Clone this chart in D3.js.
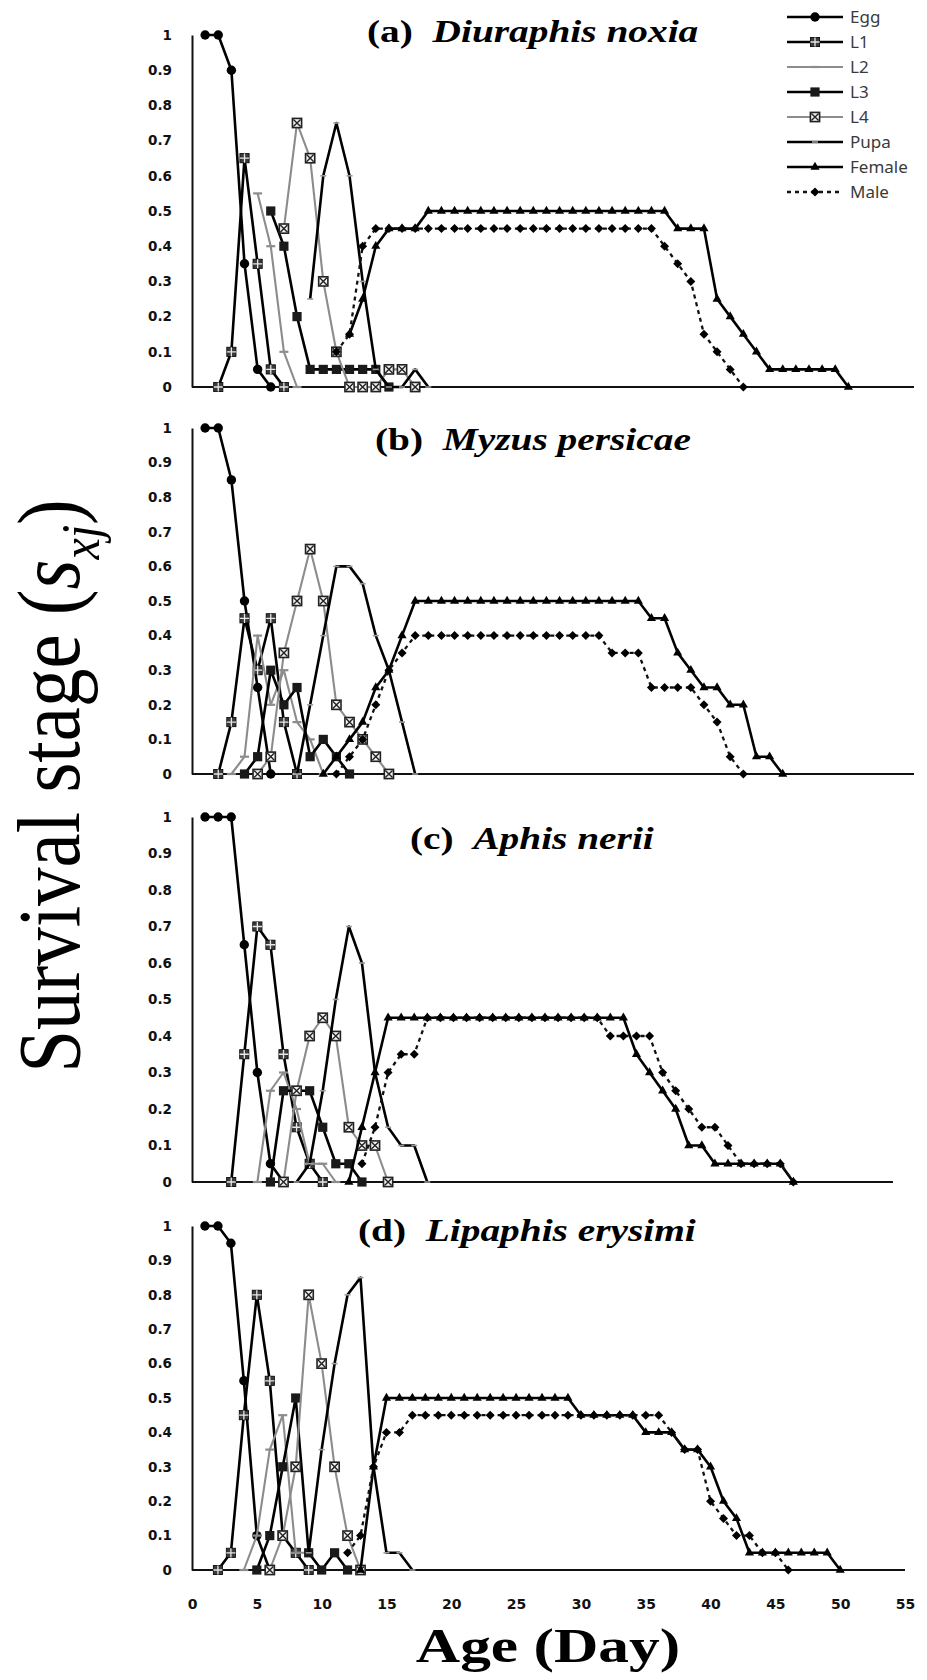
<!DOCTYPE html>
<html>
<head>
<meta charset="utf-8">
<script src="https://cdn.jsdelivr.net/npm/d3@7"></script>
<style>
  body { margin: 0; background: #fff; }
  svg { display: block; }
</style>
</head>
<body>
<div id="chart"></div>
<script>
// ---- data: survival rate per stage, [age (day), s_xj] ----

// (a) Diuraphis noxia
const eggA = [[1,1],[2,1],[3,0.9],[4,0.35],[5,0.05],[6,0]];
const l1A = [[2,0],[3,0.1],[4,0.65],[5,0.35],[6,0.05],[7,0]];
const l2A = [[5,0.55],[6,0.4],[7,0.1],[8,0]];
const l3A = [[6,0.5],[7,0.4],[8,0.2],[9,0.05],[10,0.05],[11,0.05],[12,0.05],[13,0.05],[14,0.05],[15,0]];
const l4A = [[7,0.45],[8,0.75],[9,0.65],[10,0.3],[11,0.1],[12,0],[13,0],[14,0],[15,0.05],[16,0.05],[17,0]];
const pupaA = [[9,0.25],[10,0.6],[11,0.75],[12,0.6],[13,0.3],[14,0.05],[15,0],[16,0],[17,0.05],[18,0]];
const femaleA = [[12,0.15],[13,0.25],[14,0.4],[15,0.45],[16,0.45],[17,0.45],[18,0.5],[19,0.5],[20,0.5],
  [21,0.5],[22,0.5],[23,0.5],[24,0.5],[25,0.5],[26,0.5],[27,0.5],[28,0.5],[29,0.5],[30,0.5],[31,0.5],
  [32,0.5],[33,0.5],[34,0.5],[35,0.5],[36,0.5],[37,0.45],[38,0.45],[39,0.45],[40,0.25],[41,0.2],
  [42,0.15],[43,0.1],[44,0.05],[45,0.05],[46,0.05],[47,0.05],[48,0.05],[49,0.05],[50,0]];
const maleA = [[11,0.1],[12,0.15],[13,0.4],[14,0.45],[15,0.45],[16,0.45],[17,0.45],[18,0.45],[19,0.45],
  [20,0.45],[21,0.45],[22,0.45],[23,0.45],[24,0.45],[25,0.45],[26,0.45],[27,0.45],[28,0.45],[29,0.45],
  [30,0.45],[31,0.45],[32,0.45],[33,0.45],[34,0.45],[35,0.45],[36,0.4],[37,0.35],[38,0.3],[39,0.15],
  [40,0.1],[41,0.05],[42,0]];

// (b) Myzus persicae
const eggB = [[1,1],[2,1],[3,0.85],[4,0.5],[5,0.25],[6,0]];
const l1B = [[2,0],[3,0.15],[4,0.45],[5,0.3],[6,0.45],[7,0.15],[8,0]];
const l2B = [[3,0],[4,0.05],[5,0.4],[6,0.2],[7,0.3],[8,0.15],[9,0.1],[10,0]];
const l3B = [[4,0],[5,0.05],[6,0.3],[7,0.2],[8,0.25],[9,0.05],[10,0.1],[11,0.05],[12,0]];
const l4B = [[5,0],[6,0.05],[7,0.35],[8,0.5],[9,0.65],[10,0.5],[11,0.2],[12,0.15],[13,0.1],[14,0.05],[15,0]];
const pupaB = [[8,0],[9,0.2],[10,0.4],[11,0.6],[12,0.6],[13,0.55],[14,0.4],[15,0.3],[16,0.15],[17,0]];
const femaleB = [[10,0],[11,0.05],[12,0.1],[13,0.15],[14,0.25],[15,0.3],[16,0.4],[17,0.5],[18,0.5],
  [19,0.5],[20,0.5],[21,0.5],[22,0.5],[23,0.5],[24,0.5],[25,0.5],[26,0.5],[27,0.5],[28,0.5],[29,0.5],
  [30,0.5],[31,0.5],[32,0.5],[33,0.5],[34,0.5],[35,0.45],[36,0.45],[37,0.35],[38,0.3],[39,0.25],
  [40,0.25],[41,0.2],[42,0.2],[43,0.05],[44,0.05],[45,0]];
const maleB = [[11,0],[12,0.05],[13,0.1],[14,0.2],[15,0.3],[16,0.35],[17,0.4],[18,0.4],[19,0.4],
  [20,0.4],[21,0.4],[22,0.4],[23,0.4],[24,0.4],[25,0.4],[26,0.4],[27,0.4],[28,0.4],[29,0.4],[30,0.4],
  [31,0.4],[32,0.35],[33,0.35],[34,0.35],[35,0.25],[36,0.25],[37,0.25],[38,0.25],[39,0.2],[40,0.15],
  [41,0.05],[42,0]];

// (c) Aphis nerii
const eggC = [[1,1],[2,1],[3,1],[4,0.65],[5,0.3],[6,0.05],[7,0]];
const l1C = [[3,0],[4,0.35],[5,0.7],[6,0.65],[7,0.35],[8,0.15],[9,0.05],[10,0]];
const l2C = [[5,0],[6,0.25],[7,0.3],[8,0.2],[9,0.05],[10,0.05],[11,0]];
const l3C = [[6,0],[7,0.25],[8,0.25],[9,0.25],[10,0.15],[11,0.05],[12,0.05],[13,0]];
const l4C = [[7,0],[8,0.25],[9,0.4],[10,0.45],[11,0.4],[12,0.15],[13,0.1],[14,0.1],[15,0]];
const pupaC = [[8,0],[9,0.05],[10,0.25],[11,0.5],[12,0.7],[13,0.6],[14,0.3],[15,0.15],[16,0.1],[17,0.1],[18,0]];
const femaleC = [[12,0],[13,0.15],[14,0.3],[15,0.45],[16,0.45],[17,0.45],[18,0.45],[19,0.45],[20,0.45],
  [21,0.45],[22,0.45],[23,0.45],[24,0.45],[25,0.45],[26,0.45],[27,0.45],[28,0.45],[29,0.45],[30,0.45],
  [31,0.45],[32,0.45],[33,0.45],[34,0.35],[35,0.3],[36,0.25],[37,0.2],[38,0.1],[39,0.1],[40,0.05],
  [41,0.05],[42,0.05],[43,0.05],[44,0.05],[45,0.05],[46,0]];
const maleC = [[13,0.05],[14,0.15],[15,0.3],[16,0.35],[17,0.35],[18,0.45],[19,0.45],[20,0.45],[21,0.45],
  [22,0.45],[23,0.45],[24,0.45],[25,0.45],[26,0.45],[27,0.45],[28,0.45],[29,0.45],[30,0.45],[31,0.45],
  [32,0.4],[33,0.4],[34,0.4],[35,0.4],[36,0.3],[37,0.25],[38,0.2],[39,0.15],[40,0.15],[41,0.1],
  [42,0.05],[43,0.05],[44,0.05],[45,0.05],[46,0]];

// (d) Lipaphis erysimi
const eggD = [[1,1],[2,1],[3,0.95],[4,0.55],[5,0.1],[6,0]];
const l1D = [[2,0],[3,0.05],[4,0.45],[5,0.8],[6,0.55],[7,0.1],[8,0.05],[9,0]];
const l2D = [[4,0],[5,0.1],[6,0.35],[7,0.45],[8,0.05],[9,0.05],[10,0]];
const l3D = [[5,0],[6,0.1],[7,0.3],[8,0.5],[9,0.05],[10,0],[11,0.05],[12,0]];
const l4D = [[6,0],[7,0.1],[8,0.3],[9,0.8],[10,0.6],[11,0.3],[12,0.1],[13,0]];
const pupaD = [[9,0.05],[10,0.35],[11,0.6],[12,0.8],[13,0.85],[14,0.3],[15,0.05],[16,0.05],[17,0]];
const femaleD = [[13,0],[14,0.3],[15,0.5],[16,0.5],[17,0.5],[18,0.5],[19,0.5],[20,0.5],[21,0.5],
  [22,0.5],[23,0.5],[24,0.5],[25,0.5],[26,0.5],[27,0.5],[28,0.5],[29,0.5],[30,0.45],[31,0.45],
  [32,0.45],[33,0.45],[34,0.45],[35,0.4],[36,0.4],[37,0.4],[38,0.35],[39,0.35],[40,0.3],[41,0.2],
  [42,0.15],[43,0.05],[44,0.05],[45,0.05],[46,0.05],[47,0.05],[48,0.05],[49,0.05],[50,0]];
const maleD = [[12,0.05],[13,0.1],[14,0.3],[15,0.4],[16,0.4],[17,0.45],[18,0.45],[19,0.45],[20,0.45],
  [21,0.45],[22,0.45],[23,0.45],[24,0.45],[25,0.45],[26,0.45],[27,0.45],[28,0.45],[29,0.45],[30,0.45],
  [31,0.45],[32,0.45],[33,0.45],[34,0.45],[35,0.45],[36,0.45],[37,0.4],[38,0.35],[39,0.35],[40,0.2],
  [41,0.15],[42,0.1],[43,0.1],[44,0.05],[45,0.05],[46,0]];

const stages = ["Egg", "L1", "L2", "L3", "L4", "Pupa", "Female", "Male"];
const yTicks = [0, 0.1, 0.2, 0.3, 0.4, 0.5, 0.6, 0.7, 0.8, 0.9, 1];
const xTicks = [0, 5, 10, 15, 20, 25, 30, 35, 40, 45, 50, 55];

const panels = [
  { tag: "(a)", species: "Diuraphis noxia", series: [eggA, l1A, l2A, l3A, l4A, pupaA, femaleA, maleA] },
  { tag: "(b)", species: "Myzus persicae", series: [eggB, l1B, l2B, l3B, l4B, pupaB, femaleB, maleB] },
  { tag: "(c)", species: "Aphis nerii", series: [eggC, l1C, l2C, l3C, l4C, pupaC, femaleC, maleC] },
  { tag: "(d)", species: "Lipaphis erysimi", series: [eggD, l1D, l2D, l3D, l4D, pupaD, femaleD, maleD] }
];

// ---- layout (pixels) ----
const width = 927, height = 1680;
const left = 192;
const serif = "'Liberation Serif', 'Times New Roman', serif";
const boxes = [
  { top: 35, bottom: 387, right: 914, axisEnd: 914, titleX: 367, titleY: 42 },
  { top: 428, bottom: 774, right: 914, axisEnd: 914, titleX: 375, titleY: 450 },
  { top: 817, bottom: 1182, right: 911, axisEnd: 893, titleX: 410, titleY: 849 },
  { top: 1226, bottom: 1570, right: 905, axisEnd: 905, titleX: 358, titleY: 1241 }
];

const gray = "#8c8c8c";
const styles = {
  Egg:    { stroke: "#000", width: 2.6, marker: "circle" },
  L1:     { stroke: "#000", width: 2.6, marker: "plusSquare" },
  L2:     { stroke: gray,   width: 2.1, marker: "dash" },
  L3:     { stroke: "#000", width: 2.6, marker: "square" },
  L4:     { stroke: gray,   width: 2.1, marker: "xSquare" },
  Pupa:   { stroke: "#000", width: 2.6, marker: "tick" },
  Female: { stroke: "#000", width: 2.6, marker: "triangle" },
  Male:   { stroke: "#111", width: 2.3, marker: "diamond", dash: "4,4" }
};

const svg = d3.select("#chart").append("svg")
  .attr("width", width)
  .attr("height", height);

svg.append("rect").attr("width", width).attr("height", height).attr("fill", "#fff");

/**
 * Draws one marker symbol centred on the given group.
 */
function drawMarker(g, type) {
  if (type === "circle") {
    g.append("circle").attr("r", 4.7).attr("fill", "#000");
  } else if (type === "plusSquare") {
    g.append("rect").attr("x", -4.6).attr("y", -4.6).attr("width", 9.2).attr("height", 9.2)
      .attr("fill", "#3a3a3a").attr("stroke", "#000").attr("stroke-width", 0.8);
    g.append("path").attr("d", "M-4.6,0H4.6M0,-4.6V4.6")
      .attr("stroke", "#e8e8e8").attr("stroke-width", 1.3);
  } else if (type === "dash") {
    g.append("path").attr("d", "M-4.5,0H4.5").attr("stroke", gray).attr("stroke-width", 2.2);
  } else if (type === "square") {
    g.append("rect").attr("x", -4.6).attr("y", -4.6).attr("width", 9.2).attr("height", 9.2)
      .attr("fill", "#1a1a1a");
  } else if (type === "xSquare") {
    g.append("rect").attr("x", -4.6).attr("y", -4.6).attr("width", 9.2).attr("height", 9.2)
      .attr("fill", "#f2f2f2").attr("stroke", "#222").attr("stroke-width", 1.6);
    g.append("path").attr("d", "M-3.6,-3.6L3.6,3.6M-3.6,3.6L3.6,-3.6")
      .attr("stroke", "#222").attr("stroke-width", 1.4);
  } else if (type === "tick") {
    g.append("path").attr("d", "M-3,0H3").attr("stroke", "#9a9a9a").attr("stroke-width", 1.6);
  } else if (type === "triangle") {
    g.append("path").attr("d", d3.symbol(d3.symbolTriangle, 36)()).attr("fill", "#000");
  } else if (type === "diamond") {
    g.append("path").attr("d", "M0,-4.5L4.5,0L0,4.5L-4.5,0Z").attr("fill", "#000");
  }
}

panels.forEach((p, i) => {
  const box = boxes[i];
  const x = d3.scaleLinear().domain([0, 55]).range([left, box.right]);
  const y = d3.scaleLinear().domain([0, 1]).range([box.bottom, box.top]);
  const g = svg.append("g").attr("class", "panel");

  // y axis
  const yAxis = g.append("g")
    .attr("transform", `translate(${left},0)`)
    .call(d3.axisLeft(y).tickValues(yTicks).tickSize(0).tickSizeOuter(0).tickPadding(20)
      .tickFormat(d3.format("~g")));
  yAxis.select(".domain").attr("stroke", "#111").attr("stroke-width", 2);
  yAxis.selectAll("text")
    .attr("font-family", "DejaVu Sans")
    .attr("font-weight", "bold")
    .attr("font-size", 13.5)
    .attr("fill", "#111");

  // x axis line (tick labels only under the last panel)
  g.append("line")
    .attr("x1", left).attr("x2", box.axisEnd)
    .attr("y1", y(0)).attr("y2", y(0))
    .attr("stroke", "#111").attr("stroke-width", 2);

  if (i === panels.length - 1) {
    const xAxis = g.append("g")
      .attr("transform", `translate(0,${y(0)})`)
      .call(d3.axisBottom(x).tickValues(xTicks).tickSize(0).tickPadding(29));
    xAxis.select(".domain").remove();
    xAxis.selectAll("text")
      .attr("font-family", "DejaVu Sans")
      .attr("font-weight", "bold")
      .attr("font-size", 14)
      .attr("fill", "#111");
  }

  // series
  const line = d3.line().x(d => x(d[0])).y(d => y(d[1]));
  p.series.forEach((data, k) => {
    const st = styles[stages[k]];
    g.append("path")
      .datum(data)
      .attr("d", line)
      .attr("fill", "none")
      .attr("stroke", st.stroke)
      .attr("stroke-width", st.width)
      .attr("stroke-linejoin", "round")
      .attr("stroke-dasharray", st.dash || null);
    g.append("g")
      .selectAll("g")
      .data(data)
      .join("g")
      .attr("transform", d => `translate(${x(d[0])},${y(d[1])})`)
      .each(function () { drawMarker(d3.select(this), st.marker); });
  });

  // panel title
  const title = g.append("text")
    .attr("transform", `translate(${box.titleX},${box.titleY}) scale(1.23,1)`)
    .style("font-family", serif)
    .attr("font-size", 32)
    .attr("font-weight", "bold")
    .attr("fill", "#000");
  title.append("tspan").text(p.tag + "\u00a0\u00a0");
  title.append("tspan").attr("font-style", "italic").text(p.species);
});

// legend
const legend = svg.append("g").attr("class", "legend");
const legendRows = legend.selectAll("g")
  .data(stages)
  .join("g")
  .attr("transform", (d, i) => `translate(787,${17 + i * 25})`);
legendRows.append("line")
  .attr("x1", 0).attr("x2", 56)
  .attr("stroke", d => styles[d].stroke)
  .attr("stroke-width", d => styles[d].width)
  .attr("stroke-dasharray", d => styles[d].dash ? "4,4" : null);
legendRows.append("g")
  .attr("transform", "translate(28,0)")
  .each(function (d) { drawMarker(d3.select(this), styles[d].marker); });
legendRows.append("text")
  .attr("x", 63)
  .attr("dy", "0.36em")
  .attr("font-family", "Noto Sans")
  .attr("font-size", 17)
  .attr("fill", "#3a3a3a")
  .text(d => d);

// axis titles
const yTitle = svg.append("text")
  .attr("transform", "translate(79,786) rotate(-90) scale(1,1.15)")
  .attr("text-anchor", "middle")
  .style("font-family", serif)
  .style("font-weight", "normal")
  .style("font-style", "normal")
  .attr("font-size", 77)
  .attr("fill", "#000");
yTitle.append("tspan").text("Survival stage (");
yTitle.append("tspan").style("font-style", "italic").text("s");
yTitle.append("tspan").style("font-style", "italic").attr("font-size", 48).attr("dy", 17).text("xj");
yTitle.append("tspan").attr("dy", -17).text(")");

svg.append("text")
  .attr("transform", "translate(548,1662) scale(1.28,1)")
  .attr("text-anchor", "middle")
  .style("font-family", serif)
  .attr("font-size", 48)
  .attr("font-weight", "bold")
  .attr("fill", "#000")
  .text("Age (Day)");
</script>
</body>
</html>
